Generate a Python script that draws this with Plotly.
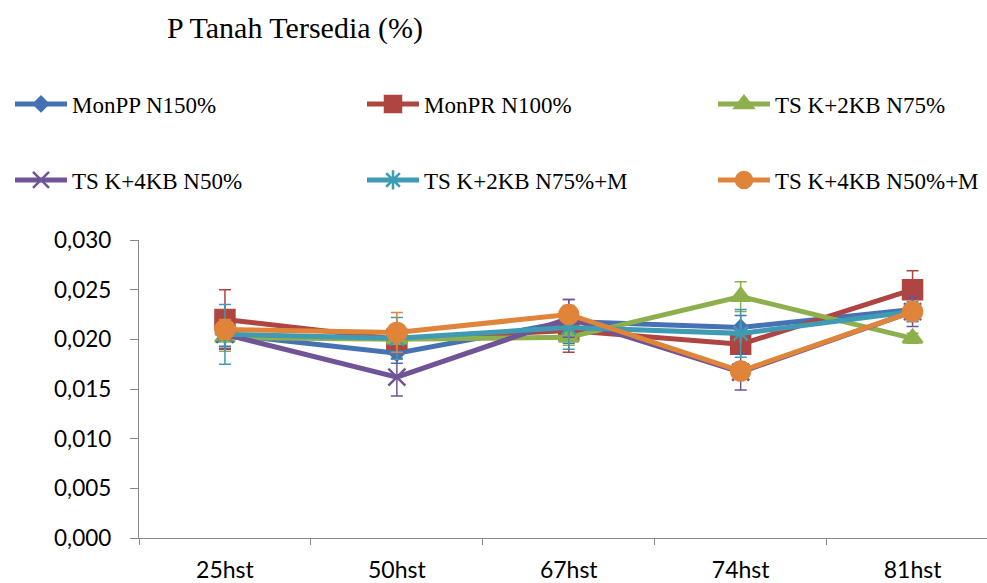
import plotly.graph_objects as go

categories = ["25hst", "50hst", "67hst", "74hst", "81hst"]

series_names = ["MonPP N150%", "MonPR N100%", "TS K+2KB N75%",
                "TS K+4KB N50%", "TS K+2KB N75%+M", "TS K+4KB N50%+M"]

monpp = [0.0205, 0.0186, 0.0218, 0.0212, 0.0230]
monpp_err = [0.0012, 0.0010, 0.0022, 0.0012, 0.0012]

monpr = [0.0220, 0.0200, 0.0209, 0.0195, 0.0250]
monpr_err = [0.0030, 0.0005, 0.0022, 0.0008, 0.0019]

ts2kb = [0.0202, 0.0200, 0.0202, 0.0243, 0.0201]
ts2kb_err = [0.0014, 0.0005, 0.0008, 0.0015, 0.0005]

ts4kb = [0.0205, 0.0162, 0.0221, 0.0167, 0.0228]
ts4kb_err = [0.0014, 0.0019, 0.0019, 0.0018, 0.0015]

ts2kbm = [0.0205, 0.0201, 0.0212, 0.0206, 0.0228]
ts2kbm_err = [0.0030, 0.0021, 0.0022, 0.0024, 0.0010]

ts4kbm = [0.0210, 0.0207, 0.0225, 0.0168, 0.0228]
ts4kbm_err = [0.0010, 0.0020, 0.0005, 0.0005, 0.0005]

y_tickvals = [0.000, 0.005, 0.010, 0.015, 0.020, 0.025, 0.030]

values = [monpp, monpr, ts2kb, ts4kb, ts2kbm, ts4kbm]
errors = [monpp_err, monpr_err, ts2kb_err, ts4kb_err, ts2kbm_err, ts4kbm_err]
colors = ["#4672B4", "#AE4541", "#8DB04D", "#6F5496", "#3E9BB3", "#E0843A"]
symbols = ["diamond", "square", "triangle-up", "x-thin", "asterisk", "circle"]
sizes = [11, 19, 17, 17, 17, 19]
legend_ids = ["legend", "legend2", "legend3", "legend4", "legend5", "legend6"]

fig = go.Figure()
for name, v, e, c, s, sz, lg in zip(series_names, values, errors, colors, symbols, sizes, legend_ids):
    fig.add_trace(go.Scatter(
        x=categories, y=v, name=name, mode="lines+markers",
        line=dict(color=c, width=5),
        marker=dict(symbol=s, size=sz, color=c, line=dict(color=c, width=2.5)),
        error_y=dict(type="data", array=e, visible=True, color=c, thickness=1.5, width=6),
        legend=lg,
    ))

axis_gray = "#888888"
L_PX, PLOT_W, T_PX, PLOT_H = 139, 848, 240, 298


def legend_at(px, py):
    return dict(
        x=(px - L_PX) / PLOT_W, y=(T_PX + PLOT_H - py) / PLOT_H,
        orientation="h", xanchor="left", yanchor="middle",
        font=dict(family="Liberation Serif", size=23, color="black"),
        itemwidth=52, bgcolor="rgba(0,0,0,0)",
    )


legend_cols = [10, 362, 713]
legend_rows = [104, 180]

layout_legends = {}
for i, lg in enumerate(legend_ids):
    layout_legends[lg] = legend_at(legend_cols[i % 3], legend_rows[i // 3])

fig.update_layout(
    width=987, height=583,
    margin=dict(l=L_PX, r=0, t=T_PX, b=45),
    paper_bgcolor="white", plot_bgcolor="white",
    separators=", ",
    showlegend=True,
    title=dict(text="P Tanah Tersedia (%)", x=167 / 987, xanchor="left",
               xref="container", y=1 - 27 / 583, yanchor="middle", yref="container",
               font=dict(family="Liberation Serif", size=30, color="black")),
    xaxis=dict(
        type="category", range=[-0.5, 4.433],
        showline=True, linecolor=axis_gray, linewidth=1.3,
        ticks="outside", tickson="boundaries", ticklen=6, tickcolor=axis_gray,
        showgrid=False, zeroline=False,
        tickfont=dict(family="Lato", size=23, color="black"),
        ticklabelstandoff=11,
    ),
    yaxis=dict(
        range=[0, 0.030], tickvals=y_tickvals, tickformat=".3f",
        showline=True, linecolor=axis_gray, linewidth=1.3,
        ticks="outside", ticklen=8, tickcolor=axis_gray,
        showgrid=False, zeroline=False,
        tickfont=dict(family="Lato", size=22.5, color="black"),
        ticklabelstandoff=14,
    ),
    **layout_legends,
)

fig.write_html("out.html")
